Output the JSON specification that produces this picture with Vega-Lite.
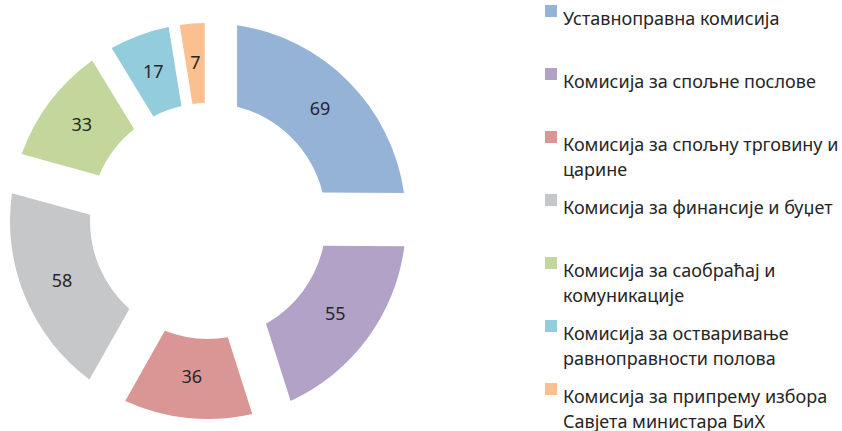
{
  "$schema": "https://vega.github.io/schema/vega-lite/v6.json",
  "width": 416,
  "height": 420,
  "autosize": {"type": "none"},
  "padding": {"left": 0, "top": 11, "right": 426, "bottom": 0},
  "background": "white",
  "config": {
    "view": {"stroke": null},
    "style": {"guide-label": {"lineHeight": 25}}
  },
  "data": {
    "values": [
      {"i": 1, "name": "Уставноправна комисија", "value": 69},
      {"i": 2, "name": "Комисија за спољне послове", "value": 55},
      {"i": 3, "name": "Комисија за спољну трговину и царине", "value": 36},
      {"i": 4, "name": "Комисија за финансије и буџет", "value": 58},
      {"i": 5, "name": "Комисија за саобраћај и комуникације", "value": 33},
      {"i": 6, "name": "Комисија за остваривање равноправности полова", "value": 17},
      {"i": 7, "name": "Комисија за припрему избора Савјета министара БиХ", "value": 7}
    ]
  },
  "transform": [{"joinaggregate": [{"op": "sum", "field": "value", "as": "total"}]}],
  "encoding": {
    "theta": {"field": "value", "type": "quantitative", "stack": true},
    "order": {"field": "i", "type": "quantitative"}
  },
  "layer": [
    {
      "mark": {
        "type": "arc",
        "innerRadius": 118,
        "outerRadius": 198,
        "padAngle": {"expr": "2*asin(0.178*sin(PI*datum.value/datum.total))"}
      },
      "encoding": {
        "color": {
          "field": "name",
          "type": "nominal",
          "scale": {
            "domain": [
              "Уставноправна комисија",
              "Комисија за спољне послове",
              "Комисија за спољну трговину и царине",
              "Комисија за финансије и буџет",
              "Комисија за саобраћај и комуникације",
              "Комисија за остваривање равноправности полова",
              "Комисија за припрему избора Савјета министара БиХ"
            ],
            "range": ["#95B3D7", "#B3A2C7", "#D99694", "#C6C7C9", "#C3D69B", "#93CDDD", "#FAC090"]
          },
          "legend": {
            "title": null,
            "orient": "none",
            "legendX": 542,
            "legendY": -9,
            "symbolType": "square",
            "symbolSize": 144,
            "symbolOpacity": 1,
            "symbolStrokeWidth": 0,
            "labelFont": "Noto Sans",
            "labelFontSize": 18,
            "labelColor": "#262626",
            "labelLimit": 400,
            "labelBaseline": "top",
            "labelOffset": 3,
            "rowPadding": 11,
            "labelExpr": "datum.label == 'Комисија за спољну трговину и царине' ? ['Комисија за спољну трговину и', 'царине'] : datum.label == 'Комисија за саобраћај и комуникације' ? ['Комисија за саобраћај и', 'комуникације'] : datum.label == 'Комисија за остваривање равноправности полова' ? ['Комисија за остваривање', 'равноправности полова'] : datum.label == 'Комисија за припрему избора Савјета министара БиХ' ? ['Комисија за припрему избора', 'Савјета министара БиХ'] : [datum.label, ' ']"
          }
        }
      }
    },
    {
      "mark": {"type": "text", "radius": 158, "font": "Noto Sans", "fontSize": 18, "color": "#262626"},
      "encoding": {"text": {"field": "value", "type": "quantitative"}}
    }
  ]
}
